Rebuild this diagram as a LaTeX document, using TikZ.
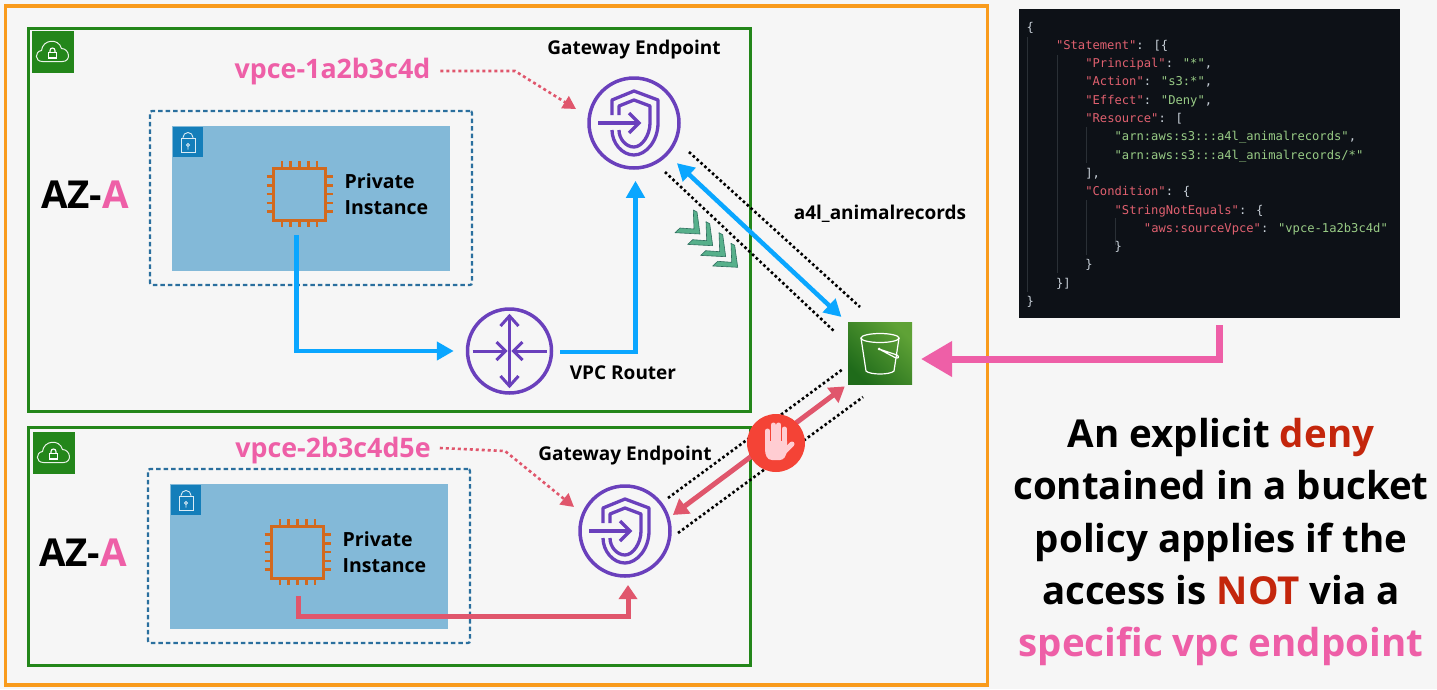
\documentclass[tikz,border=0pt]{standalone}
\usepackage{fontspec}
\setmainfont{Open Sans}
\newfontfamily\jsonfont{DejaVu Sans Mono}
\usetikzlibrary{arrows.meta,calc}
\definecolor{pagebg}{HTML}{F6F6F6}
\definecolor{orangeb}{HTML}{F99B1C}
\definecolor{greenb}{HTML}{23861A}
\definecolor{dashb}{HTML}{2A6F9E}
\definecolor{subnetfill}{HTML}{83B9D8}
\definecolor{lockfill}{HTML}{147EBA}
\definecolor{chipc}{HTML}{D2691E}
\definecolor{purp}{HTML}{6A40BC}
\definecolor{flowblue}{HTML}{0AA6FF}
\definecolor{flowred}{HTML}{E0566C}
\definecolor{pinkc}{HTML}{EE5FA7}
\definecolor{denyred}{HTML}{C4260C}
\definecolor{jsonbg}{HTML}{0D1117}
\definecolor{jr}{HTML}{E0606F}
\definecolor{jg}{HTML}{98CB85}
\definecolor{jw}{HTML}{C9D1D9}
\definecolor{jguide}{HTML}{2A3036}
\definecolor{chevf}{HTML}{57B08B}
\definecolor{chevd}{HTML}{2F6F5F}
\definecolor{stopc}{HTML}{F44336}
\definecolor{handc}{HTML}{FFCDD2}
\definecolor{bucketdark}{HTML}{1F6B1A}
\definecolor{bucketlight}{HTML}{5FA236}
\newcommand{\jR}[1]{\textcolor{jr}{#1}}
\newcommand{\jG}[1]{\textcolor{jg}{#1}}
\newcommand{\jl}[4]{\node[jsonline] (#1) at ({1026.5+7.33*#3},{31+18.3*#2}) {#4};}
\tikzset{
  x=1pt,y=-1pt,
  orangebox/.style={draw=orangeb,line width=3.5pt,outer sep=0pt},
  vpcbox/.style={draw=greenb,line width=3pt,outer sep=0pt},
  dashbox/.style={draw=dashb,line width=2.2pt,dash pattern=on 4.5pt off 3pt,rounded corners=2pt,outer sep=0pt},
  subnet/.style={fill=subnetfill,draw=none,outer sep=0pt},
  lbl/.style={font=\bfseries\fontsize{19}{24}\selectfont,text=black,inner sep=0pt},
  instlbl/.style={font=\bfseries\fontsize{19.5}{26}\selectfont,text=black,inner sep=0pt,align=left,anchor=west},
  azlbl/.style={font=\bfseries\fontsize{38.5}{48}\selectfont,inner sep=0pt},
  vpcelbl/.style={font=\bfseries\fontsize{26.8}{32}\selectfont,text=pinkc,inner sep=0pt},
  bigtxt/.style={font=\bfseries\fontsize{38.5}{46}\selectfont,text=black,inner sep=0pt,anchor=base},
  jsonline/.style={font=\jsonfont\fontsize{12.15}{14}\selectfont,text=jw,inner sep=0pt,anchor=base west},
  jguideline/.style={draw=jguide,line width=0.7pt},
  iconcircle/.style={circle,draw=purp,line width=3.5pt,inner sep=0pt},
  chipbody/.style={draw=chipc,line width=3pt,minimum width=52pt,minimum height=52pt,inner sep=0pt,outer sep=0pt},
  flow/.style={draw=flowblue,line width=4.5pt},
  redflow/.style={draw=flowred,line width=5pt},
  blackdots/.style={draw=black,line width=2.6pt,dash pattern=on 2.6pt off 2.6pt},
  reddots/.style={draw=flowred,line width=2.6pt,dash pattern=on 3pt off 3pt},
  bluetip/.style={-{Triangle[length=17pt,width=18pt]}},
  redtip/.style={-{Triangle[length=14pt,width=18pt]}},
  vpcicon/.pic={
    \fill[greenb] (-21,-21) rectangle (21,21);
    \draw[white!90!greenb,line width=1pt] (-10,10) .. controls (-18,10) and (-18,0) .. (-11,-1) .. controls (-10,-12) and (6,-14) .. (9,-3) .. controls (17,-3) and (19,10) .. (10,10) -- cycle;
    \draw[white,line width=1.1pt] (-4,1) rectangle (4,6.5);
    \draw[white,line width=1.1pt] (-2.5,1) -- (-2.5,-1) arc[start angle=180,end angle=360,radius=2.5] -- (2.5,1);
  },
  lockicon/.pic={
    \fill[lockfill] (-15,-15) rectangle (15,15);
    \draw[white!85!lockfill,line width=0.9pt] (-7,-4) rectangle (7,10);
    \draw[white!85!lockfill,line width=0.9pt] (-5,-4) -- (-5,-4.5) arc[start angle=180,end angle=360,radius=5] -- (5,-4);
    \draw[white!85!lockfill,line width=0.9pt] (0,3) circle[radius=1.5] (0,4.5) -- (0,7.5);
  },
  chippins/.pic={
    \foreach \d in {-17.6,-8.8,0,8.8,17.6}{
      \draw[chipc,line width=2.6pt] (\d,-33) -- (\d,-26) (\d,26) -- (\d,33) (-33,\d) -- (-26,\d) (26,\d) -- (33,\d);
    }
  },
  gwicon/.pic={
    \draw[purp,line width=3.3pt,line join=round] (-22,-8) -- (-22,-23) -- (0,-32) -- (24,-23) -- (24,0) .. controls (24,18) and (12,32) .. (0,32) .. controls (-12,32) and (-22,20) .. (-22,7);
    \draw[purp,line width=3.3pt,line join=round] (-15,-8) -- (-15,-17) -- (0,-23) -- (16,-17) -- (16,0) .. controls (16,12) and (8,24) .. (0,24) .. controls (-8,24) and (-15,16) .. (-15,7);
    \draw[purp,line width=3.5pt] (-36,0) -- (5,0);
    \draw[purp,line width=3.5pt] (-5,-10) -- (5,0) -- (-5,10);
  },
  routericon/.pic={
    \draw[purp,line width=3pt] (0,-35) -- (0,35);
    \draw[purp,line width=3pt] (-9,-25) -- (0,-35) -- (9,-25);
    \draw[purp,line width=3pt] (-9,25) -- (0,35) -- (9,25);
    \draw[purp,line width=3pt] (-37,0) -- (-4,0);
    \draw[purp,line width=3pt] (-13,-9) -- (-4,0) -- (-13,9);
    \draw[purp,line width=3pt] (37,0) -- (4,0);
    \draw[purp,line width=3pt] (13,-9) -- (4,0) -- (13,9);
  },
  bucketicon/.pic={
    \draw[white,line width=1.2pt] (0,-15) ellipse[x radius=19,y radius=4.5];
    \draw[white,line width=1.2pt] (-19,-15) -- (-14,18) .. controls (-10,22) and (10,22) .. (14,18) -- (19,-15);
    \draw[white,line width=1.2pt] (-1,-4) -- (17,2) .. controls (20,4) and (18,6) .. (15,4.5) -- (-1,-4);
    \fill[white] (-1,-4) circle[radius=1.5];
  },
  handicon/.pic={
    \fill[handc] (-11,-2) -- (11,-2) -- (11,8) .. controls (10,13) and (8,17) .. (4,17) -- (-4,17) .. controls (-9,17) and (-11,12) .. (-11,6) -- cycle;
    \draw[handc,line width=5pt,line cap=round] (-8.5,2) -- (-8.5,-12);
    \draw[handc,line width=5pt,line cap=round] (-2.8,2) -- (-2.8,-18);
    \draw[handc,line width=5pt,line cap=round] (2.8,2) -- (2.8,-18);
    \draw[handc,line width=5pt,line cap=round] (8.3,2) -- (8.3,-14);
    \draw[handc,line width=5pt,line cap=round] (7,10) -- (16,1);
  },
  chevron/.pic={
    \filldraw[fill=chevf,draw=chevd,line width=0.6pt,line join=round] (-6.7,-24) -- (-3,-22) -- (0,0) -- (-25,-1.3) -- (-20,-6) -- (-6,-5) -- cycle;
  }
}
\begin{document}
\begin{tikzpicture}
\useasboundingbox (0,0) rectangle (1437,689);
\fill[pagebg] (0,0) rectangle (1437,689);

% Frames
\node[orangebox,minimum width=982pt,minimum height=679pt,inner sep=0pt,anchor=north west] (region) at (5.5,6) {};
\node[vpcbox,minimum width=722pt,minimum height=383pt,inner sep=0pt,anchor=north west] (vpcA) at (28,28) {};
\node[vpcbox,minimum width=722pt,minimum height=238pt,inner sep=0pt,anchor=north west] (vpcB) at (28,427) {};
\pic at (52.5,51.5) {vpcicon};
\pic at (53.5,452.5) {vpcicon};

% Subnets
\node[dashbox,minimum width=322pt,minimum height=174pt,inner sep=0pt,anchor=north west] (dashA) at (150,111) {};
\node[subnet,minimum width=278pt,minimum height=145pt,inner sep=0pt,anchor=north west] (subnetA) at (172,126) {};
\pic at (188,142) {lockicon};
\node[dashbox,minimum width=322pt,minimum height=174pt,inner sep=0pt,anchor=north west] (dashB) at (148,469) {};
\node[subnet,minimum width=278pt,minimum height=145pt,inner sep=0pt,anchor=north west] (subnetB) at (170,484) {};
\pic at (186,500) {lockicon};

% Labels
\node[azlbl] (azA) at (85,195) {AZ-\textcolor{pinkc}{A}};
\node[azlbl] (azB) at (83,553) {AZ-\textcolor{pinkc}{A}};
\node[vpcelbl] (vpceA) at (332.5,72) {vpce-1a2b3c4d};
\node[vpcelbl] (vpceB) at (333,451) {vpce-2b3c4d5e};
\node[lbl] (gwlblA) at (634,50) {Gateway Endpoint};
\node[lbl] (gwlblB) at (625,456) {Gateway Endpoint};
\node[lbl] (bucketlbl) at (880,214) {a4l\_animalrecords};
\node[lbl] (routerlbl) at (623,372.5) {VPC Router};
\node[instlbl] (instA) at (344.5,194.5) {Private\\Instance};
\node[instlbl] (instB) at (342.5,552.5) {Private\\Instance};

% Chips
\node[chipbody] (chipA) at (299.5,194) {};
\pic at (299.5,194) {chippins};
\node[chipbody] (chipB) at (297.5,552) {};
\pic at (297.5,552) {chippins};

% Icons
\node[iconcircle,minimum size=90pt] (gwA) at (634,123) {};
\pic at (634,123) {gwicon};
\node[iconcircle,minimum size=90pt] (gwB) at (625,531) {};
\pic at (625,531) {gwicon};
\node[iconcircle,minimum size=84pt] (router) at (509.5,351) {};
\pic at (509.5,351) {routericon};
\node[minimum width=64pt,minimum height=62pt,inner sep=0pt,outer sep=0pt,bottom color=bucketdark,top color=bucketlight,shading angle=-45] (bucket) at (880,353) {};
\pic at (880,353) {bucketicon};

% Flows
\draw[flow,bluetip,shorten <=15pt,shorten >=12pt] ([xshift=-3pt]chipA.south) |- (router.west);
\draw[flow,bluetip,shorten <=7pt,shorten >=11pt] ([yshift=-1pt]router.east) -| ([xshift=1.5pt]gwA.south);
\draw[flow,{Triangle[length=17pt,width=18pt]}-{Triangle[length=17pt,width=18pt]},shorten <=12pt,shorten >=9pt] (gwA) -- (bucket);
\coordinate (redbend) at (628,616.5);
\draw[redflow,redtip,shorten <=18pt] ([xshift=0.5pt]chipB.south) |- (redbend) -- (628,585);
\draw[redflow,{Triangle[length=15pt,width=18pt]}-{Triangle[length=15pt,width=18pt]},shorten <=4pt,shorten >=4pt] (gwB.17) -- (bucket.south west);

% Dotted tunnel lines
\coordinate (tA1) at (689,152); \coordinate (tA2) at (860,307);
\coordinate (tB1) at (665,172); \coordinate (tB2) at (835,332);
\coordinate (tC1) at (668,498); \coordinate (tC2) at (843,369);
\coordinate (tD1) at (678,533); \coordinate (tD2) at (863,397);
\draw[blackdots] (tA1) -- (tA2);
\draw[blackdots] (tB1) -- (tB2);
\draw[blackdots] (tC1) -- (tC2);
\draw[blackdots] (tD1) -- (tD2);

% Chevrons
\pic at (700,234) {chevron};
\pic at (712.7,245.7) {chevron};
\pic at (725.7,256.7) {chevron};
\pic at (737.7,267.3) {chevron};

% Stop
\node[circle,minimum size=58pt,inner sep=0pt,fill=stopc] (stop) at (776,443) {};
\pic at (776,443) {handicon};

% Endpoint dotted arrows
\coordinate (dA) at (515,71);
\coordinate (dB) at (505,451);
\coordinate (tipA) at (576,109);
\coordinate (tipB) at (574,507);
\draw[reddots,-{Triangle[length=13pt,width=14pt]}] (vpceA.east) ++(10,-1) -- (dA) -- (tipA);
\draw[reddots,-{Triangle[length=13pt,width=14pt]}] (vpceB.east) ++(9,-3) -- (dB) -- (tipB);

% Policy
\node[fill=jsonbg,minimum width=381pt,minimum height=309pt,inner sep=0pt,outer sep=0pt,anchor=north west] (policy) at (1019,9) {};
\draw[jguideline] (1027,37) -- (1027,292);
\draw[jguideline] (1057,55) -- (1057,273);
\draw[jguideline] (1086,127) -- (1086,163) (1086,200) -- (1086,255);
\draw[jguideline] (1115,218) -- (1115,245);
\jl{j0}{0}{0}{\{}
\jl{j1}{1}{4}{\jR{"Statement"}: [\{}
\jl{j2}{2}{8}{\jR{"Principal"}: \jG{"*"},}
\jl{j3}{3}{8}{\jR{"Action"}: \jG{"s3:*"},}
\jl{j4}{4}{8}{\jR{"Effect"}: \jG{"Deny"},}
\jl{j5}{5}{8}{\jR{"Resource"}: [}
\jl{j6}{6}{12}{\jG{"arn:aws:s3:::a4l\_animalrecords"},}
\jl{j7}{7}{12}{\jG{"arn:aws:s3:::a4l\_animalrecords/*"}}
\jl{j8}{8}{8}{],}
\jl{j9}{9}{8}{\jR{"Condition"}: \{}
\jl{j10}{10}{12}{\jR{"StringNotEquals"}: \{}
\jl{j11}{11}{16}{\jR{"aws:sourceVpce"}: \jG{"vpce-1a2b3c4d"}}
\jl{j12}{12}{12}{\}}
\jl{j13}{13}{8}{\}}
\jl{j14}{14}{4}{\}]}
\jl{j15}{15}{0}{\}}

% Policy arrow
\draw[draw=pinkc,line width=7pt,-{Triangle[length=31pt,width=34pt]},shorten >=9pt,shorten <=7pt] ([xshift=9.5pt]policy.south) |- ([yshift=-6pt]bucket.east);

% Right text
\node[bigtxt] (t1) at (1221,447) {An explicit \textcolor{denyred}{deny}};
\node[bigtxt] (t2) at (1221,499) {contained in a bucket};
\node[bigtxt] (t3) at (1221,552) {policy applies if the};
\node[bigtxt] (t4) at (1221,604) {access is \textcolor{denyred}{NOT} via a};
\node[bigtxt,text=pinkc] (t5) at (1221,656) {specific vpc endpoint};
\end{tikzpicture}
\end{document}
